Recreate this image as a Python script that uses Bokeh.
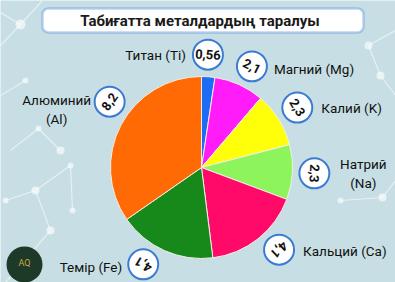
import math
from bokeh.plotting import figure
from bokeh.models import ColumnDataSource, BoxAnnotation, Range1d
from bokeh.core.properties import value
from bokeh.embed import file_html
from bokeh.resources import INLINE

# ---- data ----
title = "Табиғатта металдардың таралуы"
elements = ["Титан (Ti)", "Магний (Mg)", "Калий (K)", "Натрий\n(Na)",
            "Кальций (Ca)", "Темір (Fe)", "Алюминий\n(Al)"]
values = [0.56, 2.1, 2.3, 2.3, 4.1, 4.1, 8.2]
value_labels = ["0,56", "2,1", "2,3", "2,3", "4,1", "4,1", "8,2"]
colors = ["#1d6cf5", "#ff1cf8", "#ffff0a", "#8ef45c", "#ff0a68", "#17891a", "#ff6a05"]

# ---- layout ----
W, H = 395, 282
CX, CY, R = 201, H - 167, 91
BADGE_R = 113
badge_nudge = [-1, 2, 0, 0, -5, 7, 8]          # degrees
label_side = ["right", "left", "left", "center", "left", "right", "center"]
label_dx = [-22, 22, 24, 49, 24, -21, -53]
label_dy = [0, -3, 0, 0, -1, -3, -8]

total = sum(values)
starts, ends, mids = [], [], []
acc = 0.0
for v in values:
    th1 = acc / total * 360
    acc += v
    th2 = acc / total * 360
    starts.append(math.radians(90 - th1))
    ends.append(math.radians(90 - th2))
    mids.append((th1 + th2) / 2)

bx, by, bang, lx, ly = [], [], [], [], []
for i, m in enumerate(mids):
    th = m + badge_nudge[i]
    x = CX + BADGE_R * math.sin(math.radians(th))
    y = CY + BADGE_R * math.cos(math.radians(th))
    bx.append(x)
    by.append(y)
    bang.append(-math.radians(th))
    lx.append(x + label_dx[i])
    ly.append(y + label_dy[i])

p = figure(width=W, height=H, output_backend="svg", toolbar_location=None,
           x_range=Range1d(0, W), y_range=Range1d(0, H),
           x_axis_location=None, y_axis_location=None, min_border=0)
p.grid.visible = False
p.outline_line_color = None
p.background_fill_color = "#c7dfe4"
p.border_fill_color = "#c7dfe4"

# decorative molecule network
net_lines = [((0, 12), (20, 24)), ((20, 24), (42, 0)), ((20, 24), (0, 45)),
             ((0, 95), (25, 80)), ((10, 150), (38, 128)), ((38, 128), (60, 150)),
             ((5, 200), (35, 190)), ((35, 190), (70, 165)), ((35, 190), (50, 230)),
             ((50, 230), (5, 282)), ((70, 165), (72, 210)),
             ((368, 45), (395, 30)), ((368, 45), (380, 75)),
             ((380, 75), (395, 95)), ((340, 200), (382, 197)),
             ((382, 197), (395, 180))]
for (a, b) in net_lines:
    p.line([a[0], b[0]], [H - a[1], H - b[1]], line_color="white", line_alpha=0.55, line_width=1.2)
net_dots = [(20, 24, 5), (25, 80, 3), (38, 128, 3), (60, 150, 4), (35, 190, 4),
            (70, 165, 3), (50, 230, 4), (72, 210, 3), (368, 45, 4), (380, 75, 4),
            (340, 200, 3), (382, 197, 4), (5, 200, 3)]
p.circle([d[0] for d in net_dots], [H - d[1] for d in net_dots], radius=[d[2] for d in net_dots],
         fill_color="white", fill_alpha=0.6, line_color=None)

# title box (underlay so the title text is drawn on top)
p.add_layout(BoxAnnotation(left=42, right=363, top=H - 8, bottom=H - 32, level="underlay",
                           fill_color="white", fill_alpha=1, line_color="#2f6fd6",
                           line_width=2.5, border_radius=6))
p.text([W / 2 + 2], [H - 20], text=[title], text_align="center", text_baseline="middle",
       text_font=value("Roboto"), text_font_style="bold", text_font_size="15px",
       text_color="#1a1a1a")

# pie
src = ColumnDataSource(dict(start=starts, end=ends, color=colors))
p.wedge(x=CX, y=CY, radius=R, start_angle="start", end_angle="end", direction="clock",
        fill_color="color", line_color="#f2efe6", line_width=1, source=src)

# badges
bsrc = ColumnDataSource(dict(x=bx, y=by, ang=bang, val=value_labels,
                             lx=lx, ly=ly, lab=elements, al=label_side))
p.circle("x", "y", radius=15, source=bsrc, fill_color="white",
         line_color="#3b7bd2", line_width=2)
p.text("x", "y", text="val", angle="ang", source=bsrc, text_align="center",
       text_baseline="middle", text_font=value("Roboto"), text_font_style="bold",
       text_font_size="13px", text_color="#111111")
p.text("lx", "ly", text="lab", text_align="al", source=bsrc, text_baseline="middle",
       text_font=value("Roboto"), text_font_size="13.5px", text_color="#111111",
       text_line_height=1.15)

# logo
p.circle([24], [H - 264], radius=18, fill_color="#1d3a29", line_color=None)
p.text([24], [H - 262], text=["AQ"], text_align="center", text_baseline="middle",
       text_font=value("Roboto"), text_font_size="9px", text_color="#c9a64a")

open("out.html", "w").write(file_html(p, INLINE))
